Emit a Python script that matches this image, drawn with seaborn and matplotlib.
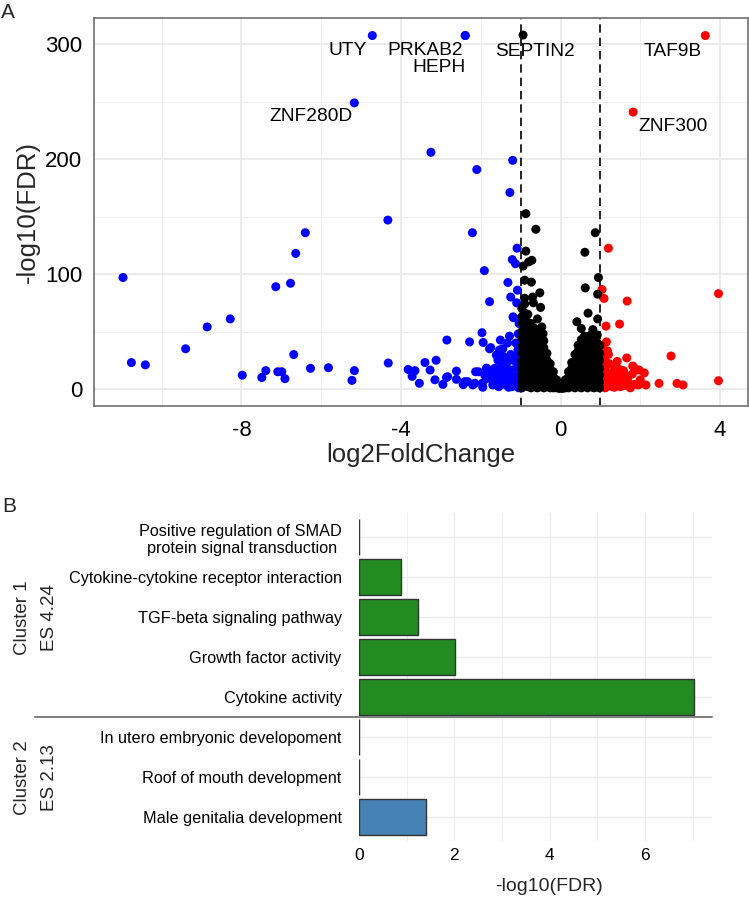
import matplotlib
matplotlib.use("Agg")
import matplotlib.pyplot as plt
import matplotlib.transforms as mtransforms
import pandas as pd
import seaborn as sns

# ---- panel A: volcano plot ----
# down-regulated, FDR significant (blue)
blue_fc = [-4.72, -2.39, -2.39, -5.17, -3.25, -1.20, -2.10, -1.27, -4.33, -2.21,
           -6.40, -6.64, -10.97, -7.14, -6.77, -8.28, -8.86, -9.40, -10.76, -10.41,
           -7.98, -7.49, -7.39, -7.09, -6.99, -6.91, -6.69, -6.27, -5.82, -5.17,
           -5.23, -4.32, -3.82, -3.72, -3.65, -3.54, -3.40, -3.27, -3.12, -3.15,
           -2.95, -2.85, -2.83, -2.61, -2.61, -2.44, -2.28, -2.33, -2.15, -2.06,
           -1.97, -1.94, -1.91, -1.85, -1.78, -1.75, -1.51, -1.32, -1.25, -1.09,
           -1.21, -1.13, -1.08, -1.10, -1.18, -1.06, -1.04, -1.19, -1.04,
           -1.78, -1.53, -1.45, -1.07, -1.61, -1.42, -1.57, -1.32, -1.16, -1.86,
           -1.65, -1.49, -1.36, -1.23, -2.13, -2.86, -2.40, -2.20, -1.96, -1.70,
           -1.53, -1.45, -1.32, -1.19, -1.36, -1.16, -1.55, -1.62, -1.48, -1.40,
           -1.28, -1.22, -1.12, -1.08, -1.05, -1.10, -1.25, -1.38, -1.58, -1.68,
           -1.44, -1.30, -1.05, -1.15, -1.85, -1.95, -1.72, -1.33, -1.28, -1.12,
           -1.04, -1.06, -1.20, -1.46, -1.90]
blue_fdr = [307.6, 307.6, 307.6, 249, 206, 199, 191, 171, 147, 136,
            136, 118, 97, 89, 92, 61, 54, 35, 23, 21,
            12, 10, 16, 15, 15, 9, 30, 18, 18.5, 16,
            7.5, 22.6, 17, 11, 16, 5, 23, 16.5, 25, 8,
            4, 42.6, 10.7, 15.6, 8.4, 3.8, 41, 6.4, 5, 15,
            49, 40.5, 103, 18, 76, 36, 42.6, 92.7, 80, 122.5,
            112.6, 109, 86, 75, 62, 48, 34, 62.8, 57,
            35, 34, 35, 34, 29.5, 28, 25, 24, 25, 18,
            18, 19, 19, 16.5, 15, 10, 6.4, 3.5, 5, 3.5,
            8, 12, 10.7, 9.3, 3.5, 3.5, 2, 10, 4, 7,
            5, 2, 12, 6, 18, 22, 30, 14, 13, 8,
            22, 1.5, 1, 28, 9, 1.5, 14, 40, 46, 40,
            26, 14, 13, 27, 12]

# up-regulated, FDR significant (red)
red_fc = [3.63, 1.82, 1.20, 1.04, 1.09, 1.67, 1.14, 1.48, 1.15, 1.18,
          2.77, 1.66, 1.42, 1.81, 1.97, 2.10, 2.47, 2.92, 3.07, 2.14,
          3.96, 3.96,
          1.03, 1.08, 1.05, 1.04, 1.12, 1.15, 1.18, 1.12, 1.22, 1.25,
          1.28, 1.32, 1.35, 1.40, 1.45, 1.50, 1.55, 1.48, 1.60, 1.62,
          1.70, 1.75, 1.85, 1.95, 1.02, 1.06, 1.30, 1.10, 1.38, 1.58,
          1.68, 1.80, 2.00, 1.20, 1.90]
red_fdr = [307.6, 241, 122.5, 86.6, 78.8, 76.5, 54.7, 56.5, 41, 33,
           28.7, 27, 24, 20, 16.5, 14, 4.9, 4.9, 3.5, 3.5,
           7.2, 83,
           20, 15, 9, 3, 1, 6, 12, 18, 22, 4,
           9, 15, 1.5, 6, 11, 2, 7, 17, 3, 12,
           5, 1, 4, 3.5, 28, 35, 2, 25, 19, 16,
           9, 13, 8, 30, 17]

# not significant (black): dense V-shaped cloud, read column by column
black_cols = {
    -0.97: [1, 6, 12, 18, 24, 31, 37, 44, 50, 57, 63, 70],
    -0.90: [3, 9, 15, 21, 28, 34, 41, 47, 54, 60, 66, 74, 79],
    -0.82: [2, 8, 14, 20, 27, 33, 39, 46, 52, 58, 65],
    -0.74: [1, 7, 13, 19, 26, 32, 38, 45, 51, 57],
    -0.66: [2, 8, 14, 21, 27, 33, 40, 46, 53],
    -0.58: [1, 7, 13, 19, 25, 32, 38, 44, 50, 61],
    -0.50: [2, 8, 14, 20, 26, 33, 39, 45],
    -0.42: [1, 6, 12, 18, 24, 30, 36, 42],
    -0.34: [2, 7, 13, 19, 25, 31],
    -0.26: [1, 6, 11, 17, 22],
    -0.18: [1, 5, 10, 15],
    -0.10: [1, 4, 8],
    -0.03: [0.5, 2],
    0.05: [0.5, 3],
    0.12: [1, 4, 8],
    0.20: [1, 5, 10, 15],
    0.28: [2, 7, 12, 18, 23],
    0.36: [1, 6, 12, 18, 24, 30],
    0.44: [2, 8, 14, 20, 27, 33, 38],
    0.52: [1, 7, 13, 19, 26, 32, 38, 43],
    0.60: [2, 8, 14, 21, 27, 34, 40, 46],
    0.68: [1, 7, 13, 20, 26, 32, 39, 45],
    0.76: [2, 8, 15, 21, 28, 34, 41, 47],
    0.84: [1, 7, 13, 20, 26, 33, 39, 45],
    0.92: [2, 8, 14, 21, 27, 34, 40, 47],
    0.98: [1, 6, 12, 18, 25, 31, 38],
}
black_extra_fc = [-0.94, -0.87, -0.62, 0.87, 0.61, -0.87, -0.72, -0.80, -0.94, -0.90,
                  -0.73, 0.95, 0.62, 0.93, -0.52, -0.70, -0.68, -0.50, 0.69, 0.93,
                  0.41, 0.52, 0.81, -0.47, -0.44]
black_extra_fdr = [308, 152.6, 139, 136, 119, 120, 112, 110.6, 107, 94.7,
                   93, 97, 88, 82.5, 83.7, 80, 75, 71, 66, 61,
                   58.5, 52.7, 51.7, 54, 48]

gene_names = ["UTY", "PRKAB2", "HEPH", "SEPTIN2", "TAF9B", "ZNF280D", "ZNF300"]
gene_fc = [-4.72, -2.39, -2.39, -0.94, 3.63, -5.17, 1.82]
gene_fdr = [307.6, 307.6, 307.6, 308, 307.6, 249, 241]

# ---- panel B: enrichment bars ----
terms = ["Positive regulation of SMAD\nprotein signal transduction ",
         "Cytokine-cytokine receptor interaction",
         "TGF-beta signaling pathway",
         "Growth factor activity",
         "Cytokine activity",
         "In utero embryonic developoment",
         "Roof of mouth development",
         "Male genitalia development"]
term_fdr = [0, 0.89, 1.23, 2.01, 7.03, 0, 0, 1.41]
term_cluster = ["Cluster 1"] * 5 + ["Cluster 2"] * 3
cluster_names = ["Cluster 1\nES 4.24", "Cluster 2\nES 2.13"]

black_fc = [x for x, ys in black_cols.items() for _ in ys] + black_extra_fc
black_fdr = [y for ys in black_cols.values() for y in ys] + black_extra_fdr

volcano = pd.DataFrame({
    "log2FoldChange": blue_fc + red_fc + black_fc,
    "FDR": blue_fdr + red_fdr + black_fdr,
    "sig": ["down"] * len(blue_fc) + ["up"] * len(red_fc) + ["ns"] * len(black_fc),
})
bars = pd.DataFrame({"term": terms, "fdr": term_fdr, "cluster": term_cluster})

sns.set_theme(style="white")
plt.rcParams["font.family"] = ["Liberation Sans", "DejaVu Sans"]
plt.rcParams["axes.unicode_minus"] = False

W, H = 749, 899
fig = plt.figure(figsize=(W / 100, H / 100), dpi=100)


def px_axes(l, t, r, b):
    return fig.add_axes([l / W, 1 - b / H, (r - l) / W, (b - t) / H])


# ---------- A ----------
axA = px_axes(94.3, 18.3, 748, 406)
axA.set_xlim(-11.69, 4.70)
axA.set_ylim(-14.8, 322.6)
axA.set_xticks([-8, -4, 0, 4])
axA.set_xticks([-10, -6, -2, 2], minor=True)
axA.set_yticks([0, 100, 200, 300])
axA.set_yticks([50, 150, 250], minor=True)
axA.grid(which="major", color="#EBEBEB", lw=1.4)
axA.grid(which="minor", color="#EFEFEF", lw=0.7)
axA.set_axisbelow(True)
for s in axA.spines.values():
    s.set_color("#7a7a7a")
    s.set_linewidth(1.3)
axA.tick_params(which="major", length=6, width=1.1, color="#333333",
                labelsize=16, labelcolor="black")
axA.tick_params(axis="x", pad=4)
axA.tick_params(axis="y", pad=2.5)
axA.tick_params(which="minor", length=0)

for v in (-1, 1):
    axA.axvline(v, color="black", ls=(0, (5, 3)), lw=1.2, zorder=2)

sns.scatterplot(data=volcano, x="log2FoldChange", y="FDR", hue="sig",
                palette={"down": "#0000FF", "up": "#FF0000", "ns": "black"},
                s=42, linewidth=0, legend=False, ax=axA, zorder=3)

label_pos = {"UTY": (-5.34, 295), "PRKAB2": (-3.39, 295), "HEPH": (-3.05, 280),
             "SEPTIN2": (-0.65, 294), "TAF9B": (2.81, 294),
             "ZNF280D": (-6.25, 237), "ZNF300": (2.81, 228.5)}
for name in gene_names:
    tx, ty = label_pos[name]
    axA.text(tx, ty, name, ha="center", va="center", fontsize=13.8,
             color="black", zorder=4)

axA.set_xlabel("log2FoldChange", fontsize=18.5)
axA.set_ylabel("-log10(FDR)", fontsize=18.5)
axA.xaxis.set_label_coords(0.5, -0.126)
axA.xaxis.label.set_va("center")
axA.yaxis.set_label_coords(-0.102, 0.5)
axA.yaxis.label.set_va("center")

# ---------- B ----------
axB = px_axes(359, 513.3, 711.7, 841.3)
sns.barplot(data=bars, x="fdr", y="term", hue="cluster",
            palette={"Cluster 1": "#228B22", "Cluster 2": "#4682B4"},
            dodge=False, width=0.9, saturation=1, edgecolor="#333333",
            linewidth=1, legend=False, ax=axB, zorder=3)
axB.set_xlim(0, 7.40)
axB.set_ylim(7.6, -0.6)
axB.set_xticks([0, 2, 4, 6])
axB.set_xticks([1, 3, 5, 7], minor=True)
axB.grid(which="major", color="#EBEBEB", lw=1.0)
axB.grid(which="minor", axis="x", color="#EFEFEF", lw=0.8)
axB.set_axisbelow(True)
for s in axB.spines.values():
    s.set_visible(False)
axB.tick_params(which="both", length=0, labelcolor="black")
axB.tick_params(axis="y", labelsize=11.7, pad=12.5)
axB.tick_params(axis="x", labelsize=12.5, pad=5)
axB.set_ylabel("")
axB.set_xlabel("-log10(FDR)", fontsize=14)
axB.xaxis.set_label_coords(0.539, -0.138)
axB.xaxis.label.set_va("center")

trans = mtransforms.blended_transform_factory(fig.transFigure, axB.transData)
axB.plot([35 / W, 711.7 / W], [4.5, 4.5], transform=trans, color="#808080",
         lw=1.5, clip_on=False, zorder=4)
for name, yc in zip(cluster_names, [2, 6]):
    axB.text(36 / W, yc, name, transform=trans, rotation=90, ha="center",
             va="center", fontsize=13.5, linespacing=1.75,
             multialignment="center")

fig.text(8 / W, 1 - 12 / H, "A", ha="center", va="center", fontsize=15)
fig.text(9 / W, 1 - 506 / H, "B", ha="center", va="center", fontsize=15)

fig.savefig("out.png", dpi=100)
